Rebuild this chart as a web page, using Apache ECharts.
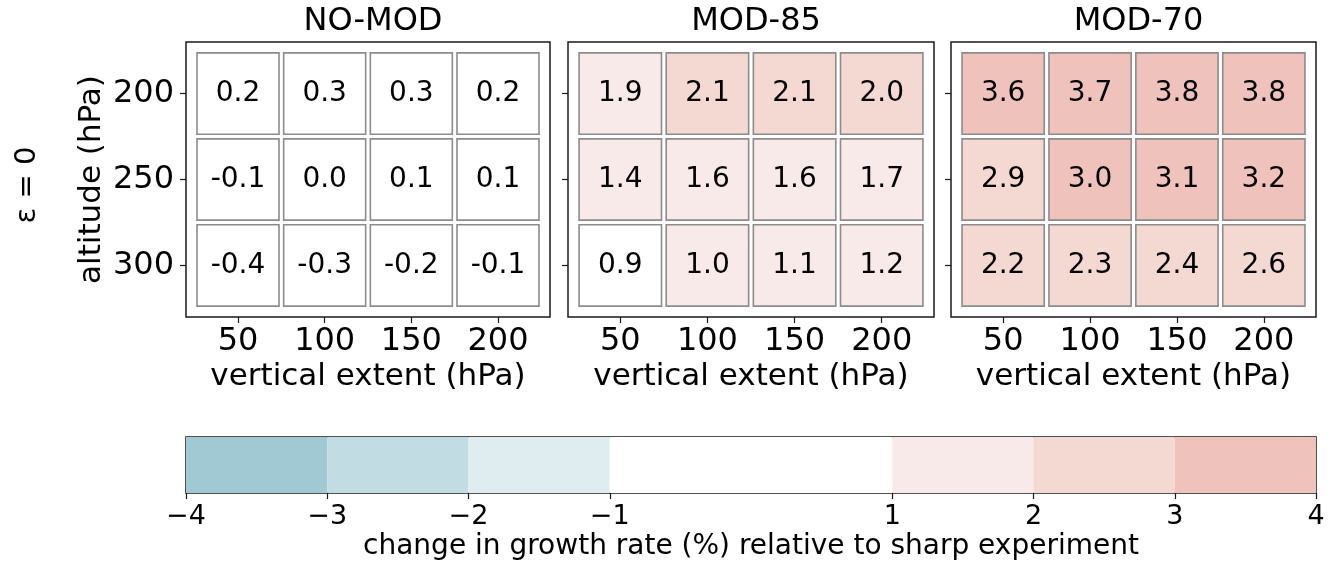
<!DOCTYPE html>
<html>
<head>
<meta charset="utf-8">
<script src="https://cdn.jsdelivr.net/npm/echarts@6/dist/echarts.min.js"></script>
<style>
html,body{margin:0;padding:0;background:#fff;}
#chart{width:1338px;height:566px;}
</style>
</head>
<body>
<div id="chart"></div>
<script>
// ---- data ----
const xCategories = [50, 100, 150, 200];          // vertical extent (hPa)
const yCategories = [200, 250, 300];              // altitude (hPa)
const panelTitles = ['NO-MOD', 'MOD-85', 'MOD-70'];
const noModValues = [
  [0.2, 0.3, 0.3, 0.2],
  [-0.1, 0.0, 0.1, 0.1],
  [-0.4, -0.3, -0.2, -0.1]
];
const mod85Values = [
  [1.9, 2.1, 2.1, 2.0],
  [1.4, 1.6, 1.6, 1.7],
  [0.9, 1.0, 1.1, 1.2]
];
const mod70Values = [
  [3.6, 3.7, 3.8, 3.8],
  [2.9, 3.0, 3.1, 3.2],
  [2.2, 2.3, 2.4, 2.6]
];
const binEdges = [-4, -3, -2, -1, 1, 2, 3, 4];
const binColors = ['#a1c9d3', '#c1dce2', '#dfedf1', '#ffffff', '#f8eae8', '#f4d8d2', '#efc3bb'];
const colorbarTicks = [-4, -3, -2, -1, 1, 2, 3, 4];
const rowLabel = 'ε = 0';
const xName = 'vertical extent (hPa)';
const yName = 'altitude (hPa)';
const cbarName = 'change in growth rate (%) relative to sharp experiment';

// ---- helpers ----
const FONT = 'DejaVu Sans';
function colorFor(v) {
  for (let i = 0; i < binColors.length; i++) {
    if (v >= binEdges[i] && v < binEdges[i + 1]) return binColors[i];
  }
  return v < binEdges[0] ? binColors[0] : binColors[binColors.length - 1];
}
function minusFmt(v) { return v < 0 ? '\u2212' + Math.abs(v) : String(v); }

const panels = [noModValues, mod85Values, mod70Values];
const gridDefs = [
  { left: 186, width: 364 },
  { left: 568, width: 366 },
  { left: 951, width: 365 }
];
const CELL = 47.3;

const grids = [], xAxes = [], yAxes = [], series = [], titles = [];
panels.forEach((vals, p) => {
  grids.push({ left: gridDefs[p].left, width: gridDefs[p].width, top: 42, height: 275,
    show: true, borderColor: '#1a1a1a', borderWidth: 1.5, backgroundColor: '#fff' });
  xAxes.push({
    gridIndex: p, type: 'value', min: 20, max: 230,
    axisLine: { show: false },
    splitLine: { show: false },
    axisTick: { show: true, length: 6, lineStyle: { color: '#1a1a1a', width: 1.2 }, customValues: xCategories },
    axisLabel: { show: true, customValues: xCategories, fontFamily: FONT, fontSize: 32, color: '#000', margin: 9 },
    name: xName, nameLocation: 'middle', nameGap: 44,
    nameTextStyle: { fontFamily: FONT, fontSize: 31, color: '#000' }
  });
  yAxes.push({
    gridIndex: p, type: 'value', min: 170, max: 330, inverse: true,
    axisLine: { show: false },
    splitLine: { show: false },
    axisTick: { show: true, length: 6, lineStyle: { color: '#1a1a1a', width: 1.2 }, customValues: yCategories },
    axisLabel: { show: p === 0, customValues: yCategories, fontFamily: FONT, fontSize: 32, color: '#000', margin: 12 },
    name: p === 0 ? yName : '', nameLocation: 'middle', nameGap: 79,
    nameTextStyle: { fontFamily: FONT, fontSize: 31, color: '#000' }
  });
  const data = [];
  vals.forEach((row, r) => row.forEach((v, c) => data.push([xCategories[c], yCategories[r], v])));
  series.push({
    type: 'custom', xAxisIndex: p, yAxisIndex: p, data: data, silent: true,
    renderItem: function (params, api) {
      const ctr = api.coord([api.value(0), api.value(1)]);
      const sz = api.size([CELL, CELL]);
      const v = api.value(2);
      return {
        type: 'group',
        children: [
          { type: 'rect', shape: { x: ctr[0] - sz[0] / 2, y: ctr[1] - sz[1] / 2, width: sz[0], height: sz[1] },
            style: { fill: colorFor(v), stroke: '#8c8c8c', lineWidth: 1.6 } },
          { type: 'text', x: ctr[0], y: ctr[1],
            style: { text: v.toFixed(1), fill: '#000', font: '28px "DejaVu Sans"', align: 'center', verticalAlign: 'middle' } }
        ]
      };
    }
  });
  titles.push({ text: panelTitles[p], left: gridDefs[p].left + gridDefs[p].width / 2, top: 1, textAlign: 'center',
    textStyle: { fontFamily: FONT, fontSize: 32, fontWeight: 'normal', color: '#000' } });
});

// colorbar
grids.push({ left: 186, right: 22, top: 437, height: 56, show: true, borderColor: '#1a1a1a', borderWidth: 1.5 });
xAxes.push({
  gridIndex: 3, type: 'value', min: -4, max: 4,
  axisLine: { show: false }, splitLine: { show: false },
  axisTick: { show: true, length: 6, lineStyle: { color: '#1a1a1a', width: 1.2 }, customValues: colorbarTicks },
  axisLabel: { show: true, customValues: colorbarTicks, formatter: minusFmt, fontFamily: FONT, fontSize: 27, color: '#000', margin: 10 },
  name: cbarName, nameLocation: 'middle', nameGap: 40,
  nameTextStyle: { fontFamily: FONT, fontSize: 28, color: '#000' }
});
yAxes.push({ gridIndex: 3, type: 'value', min: 0, max: 1, show: false });
const cbarData = binColors.map((c, i) => [binEdges[i], binEdges[i + 1], i]);
series.push({
  type: 'custom', xAxisIndex: 3, yAxisIndex: 3, data: cbarData, silent: true, z: 1,
  renderItem: function (params, api) {
    const p0 = api.coord([api.value(0), 1]);
    const p1 = api.coord([api.value(1), 0]);
    return { type: 'rect', shape: { x: p0[0], y: p0[1], width: p1[0] - p0[0], height: p1[1] - p0[1] },
      style: { fill: binColors[api.value(2)] } };
  }
});

const chart = echarts.init(document.getElementById('chart'), null, { renderer: 'canvas' });
chart.setOption({
  animation: false,
  backgroundColor: '#fff',
  title: titles,
  grid: grids,
  xAxis: xAxes,
  yAxis: yAxes,
  series: series,
  graphic: [{
    type: 'text', x: 27, y: 185, rotation: Math.PI / 2,
    style: { text: rowLabel, font: '29px "DejaVu Sans"', fill: '#000', align: 'center', verticalAlign: 'middle' }
  }]
});
</script>
</body>
</html>
